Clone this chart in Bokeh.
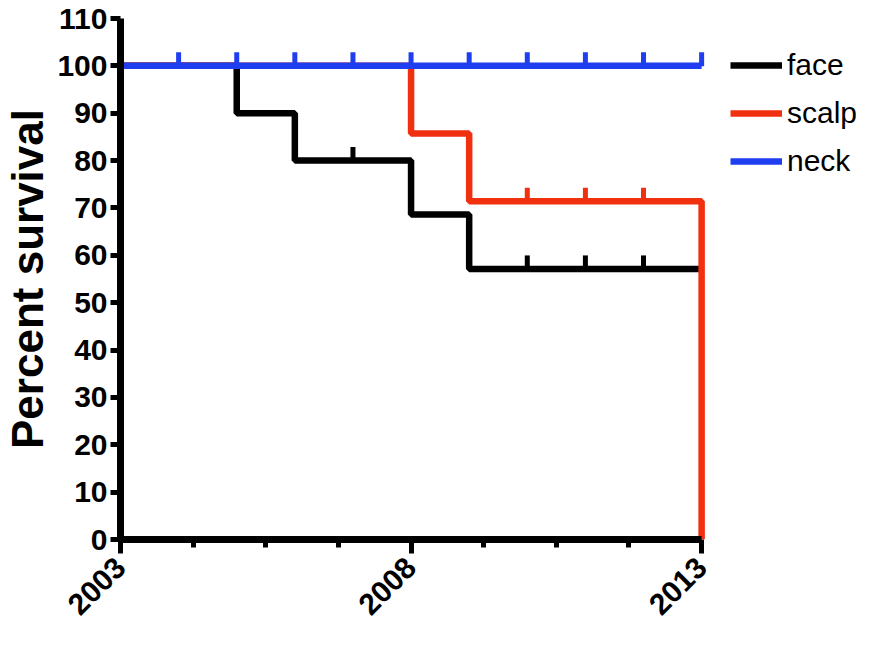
import math
from bokeh.plotting import figure
from bokeh.models import Range1d, FixedTicker, Legend, LegendItem
from bokeh.embed import file_html
from bokeh.resources import INLINE

# ---- data ----
face_years = [2003, 2005, 2006, 2008, 2009, 2013]
face_surv = [100, 90, 80, 68.6, 57.1, 57.1]
face_cens_years = [2007, 2010, 2011, 2012]
face_cens_surv = [80, 57.1, 57.1, 57.1]

scalp_years = [2003, 2008, 2009, 2013]
scalp_surv = [100, 85.7, 71.4, 0]
scalp_cens_years = [2010, 2011, 2012]
scalp_cens_surv = [71.4, 71.4, 71.4]

neck_years = [2003, 2013]
neck_surv = [100, 100]
neck_cens_years = [2004, 2005, 2006, 2007, 2008, 2009, 2010, 2011, 2012, 2013]
neck_cens_surv = [100] * 10

y_ticks = [0, 10, 20, 30, 40, 50, 60, 70, 80, 90, 100, 110]
x_ticks = [2003, 2008, 2013]
x_minor = [2004.25, 2005.5, 2006.75, 2009.25, 2010.5, 2011.75]

BLACK = "#000000"
RED = "#F0300F"
BLUE = "#1F3EF0"
LW = 6.5
CENS_UP = 1.4  # censor tick sits just above the curve

# frame spans to the right edge so the legend can sit inside it;
# axis bounds keep the axes at 2003-2013 / 0-110
x_end = 2015.82

p = figure(width=865, height=637, output_backend="svg", toolbar_location=None,
           x_range=Range1d(2003, x_end), y_range=Range1d(0, 110),
           min_border_left=110, min_border_right=0, min_border_top=18,
           min_border_bottom=98)
p.outline_line_color = None
p.xgrid.visible = False
p.ygrid.visible = False

series = [
    ("face", BLACK, face_years, face_surv, face_cens_years, face_cens_surv),
    ("scalp", RED, scalp_years, scalp_surv, scalp_cens_years, scalp_cens_surv),
    ("neck", BLUE, neck_years, neck_surv, neck_cens_years, neck_cens_surv),
]
items = []
for name, col, xs, ys, cx, cy in series:
    r1 = p.step(xs, ys, mode="after", line_color=col, line_width=LW)
    r2 = p.scatter([v for v in cx], [v + CENS_UP for v in cy], marker="dash",
                   angle=math.pi / 2, size=14, line_color=col, line_width=5,
                   fill_color=col)
    items.append(LegendItem(label=name, renderers=[r1, r2]))

# axes
for ax in (p.xaxis[0], p.yaxis[0]):
    ax.axis_line_width = 7
    ax.axis_line_color = "black"
    ax.major_tick_line_width = 5
    ax.minor_tick_line_width = 5
    ax.major_tick_in = 0
    ax.minor_tick_in = 0
    ax.major_label_text_font = "Liberation Sans"
    ax.major_label_text_font_style = "bold"
    ax.major_label_text_font_size = "30px"
    ax.major_label_text_color = "black"

p.yaxis.bounds = (0, 110)
p.yaxis.ticker = FixedTicker(ticks=y_ticks)
p.yaxis.major_tick_out = 10
p.yaxis.minor_tick_out = 0
p.yaxis.major_label_standoff = 3
p.yaxis.axis_label = "Percent survival"
p.yaxis.axis_label_text_font = "Liberation Sans"
p.yaxis.axis_label_text_font_style = "bold"
p.yaxis.axis_label_text_font_size = "44px"
p.yaxis.axis_label_text_color = "black"
p.yaxis.axis_label_standoff = 2

p.xaxis.bounds = (2003, 2013)
p.xaxis.ticker = FixedTicker(ticks=x_ticks, minor_ticks=x_minor)
p.xaxis.major_tick_out = 14
p.xaxis.minor_tick_out = 8
p.xaxis.major_label_orientation = math.pi / 4
p.xaxis.major_label_standoff = 9

legend = Legend(items=items, location=(610, 358))
legend.label_text_font = "Liberation Sans"
legend.label_text_font_size = "30px"
legend.label_text_color = "black"
legend.glyph_width = 52
legend.glyph_height = 40
legend.label_standoff = 5
legend.spacing = 8
legend.padding = 0
legend.margin = 0
legend.border_line_color = None
legend.background_fill_alpha = 0
p.add_layout(legend)

open("out.html", "w").write(file_html(p, INLINE))
